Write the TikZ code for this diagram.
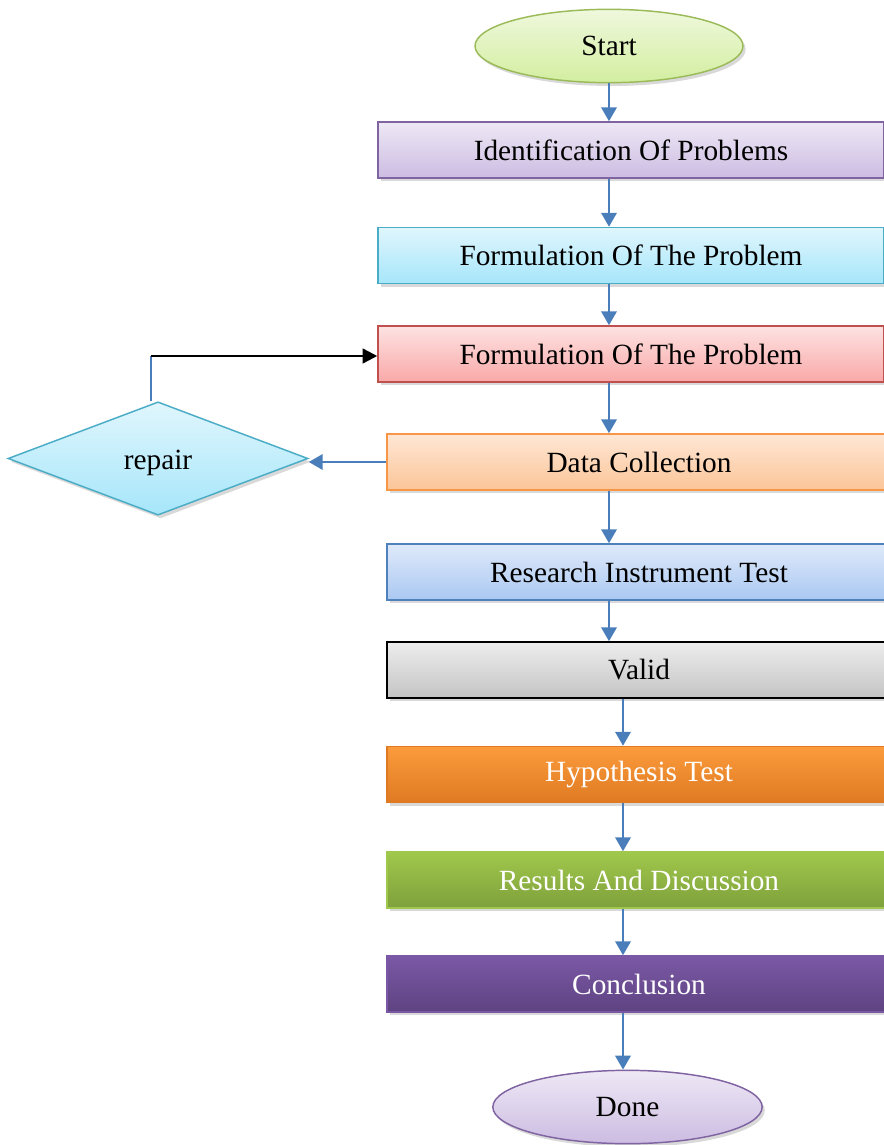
\documentclass[tikz,border=0pt]{standalone}
\usepackage{fontspec}
\setmainfont{Liberation Serif}
\usetikzlibrary{shapes.geometric,shadows,arrows.meta}

\definecolor{flowblue}{HTML}{4A7EBB}
\definecolor{lineGreen}{HTML}{9BBB59}
\definecolor{linePurple}{HTML}{8064A2}
\definecolor{lineCyan}{HTML}{4BACC6}
\definecolor{lineRed}{HTML}{C0504D}
\definecolor{lineOrange}{HTML}{F79646}
\definecolor{lineBlue}{HTML}{4F81BD}
% fills, light top to darker bottom
\definecolor{greenTop}{HTML}{EFF8DD}
\definecolor{greenBot}{HTML}{D3EEA0}
\definecolor{purpleTop}{HTML}{EEE8F5}
\definecolor{purpleBot}{HTML}{CCBCE2}
\definecolor{cyanTop}{HTML}{E0F6FD}
\definecolor{cyanBot}{HTML}{A6E6FA}
\definecolor{redTop}{HTML}{FDE2E2}
\definecolor{redBot}{HTML}{F9A9A8}
\definecolor{orangeTop}{HTML}{FFE7D5}
\definecolor{orangeBot}{HTML}{FBC598}
\definecolor{blueTop}{HTML}{DFEAFA}
\definecolor{blueBot}{HTML}{AAC8F2}
\definecolor{grayTop}{HTML}{EDEDED}
\definecolor{grayBot}{HTML}{C4C4C4}
\definecolor{hypTop}{HTML}{FB9B3C}
\definecolor{hypBot}{HTML}{DF7A22}
\definecolor{resTop}{HTML}{A0C84C}
\definecolor{resBot}{HTML}{7FA03C}
\definecolor{conTop}{HTML}{7B58A6}
\definecolor{conBot}{HTML}{5E4381}

\tikzset{
  block/.style={rectangle, draw, line width=1.1pt, minimum height=42pt,
    inner sep=0pt, font=\fontsize{22}{26}\selectfont,
    drop shadow={opacity=0.3, shadow xshift=2pt, shadow yshift=-2.5pt}},
  terminal/.style={ellipse, draw, line width=1.1pt, minimum width=201pt,
    minimum height=55pt, inner sep=0pt, font=\fontsize{22}{26}\selectfont,
    drop shadow={opacity=0.3, shadow xshift=2pt, shadow yshift=-2.5pt}},
  flow/.style={draw=flowblue, line width=2pt,
    -{Triangle[width=11.5pt,length=10.5pt]}},
}

\begin{document}
\begin{tikzpicture}[x=0.75pt, y=-0.75pt]
  \useasboundingbox (0,0) rectangle (883,1145);

  \node[terminal, draw=lineGreen, top color=greenTop, bottom color=greenBot] (start) at (609,46) {Start};
  \node[block, minimum width=379.5pt, draw=linePurple, top color=purpleTop, bottom color=purpleBot] (ident) at (631,150) {Identification Of Problems};
  \node[block, minimum width=379.5pt, draw=lineCyan, top color=cyanTop, bottom color=cyanBot] (formA) at (631,255.5) {Formulation Of The Problem};
  \node[block, minimum width=379.5pt, draw=lineRed, top color=redTop, bottom color=redBot] (formB) at (631,354) {Formulation Of The Problem};
  \node[block, minimum width=378pt, draw=lineOrange, top color=orangeTop, bottom color=orangeBot] (data) at (639,462) {Data Collection};
  \node[block, minimum width=378pt, draw=lineBlue, top color=blueTop, bottom color=blueBot] (research) at (639,572) {Research Instrument Test};
  \node[block, minimum width=378pt, draw=black, top color=grayTop, bottom color=grayBot] (valid) at (639,670) {Valid};
  \node[block, minimum width=378pt, draw=hypBot, top color=hypTop, bottom color=hypBot, text=white] (hyp) at (639,774.5) {Hypothesis Test};
  \node[block, minimum width=378pt, draw=resTop, top color=resTop, bottom color=resBot, text=white] (results) at (639,880) {Results And Discussion};
  \node[block, minimum width=378pt, draw=conTop, top color=conTop, bottom color=conBot, text=white] (concl) at (639,984) {Conclusion};
  \node[terminal, minimum width=202pt, draw=linePurple, top color=purpleTop, bottom color=purpleBot] (done) at (627.5,1107) {Done};

  \node[diamond, draw=lineCyan, line width=1.1pt, aspect=2.65, minimum width=225pt,
    minimum height=85pt, inner sep=0pt, top color=cyanTop, bottom color=cyanBot,
    font=\fontsize{22}{26}\selectfont, text height=17pt, text depth=0pt,
    drop shadow={opacity=0.3, shadow xshift=2pt, shadow yshift=-2.5pt}] (repair) at (158,458.5) {repair};

  \coordinate (lane) at (623,0);
  \coordinate (loop) at (151,356);

  \draw[flow] (start) -- (start |- ident.north);
  \draw[flow] (ident.south -| start) -- (start |- formA.north);
  \draw[flow] (formA.south -| start) -- (start |- formB.north);
  \draw[flow] (formB.south -| start) -- (start |- data.north);
  \draw[flow] (data.south -| start) -- (start |- research.north);
  \draw[flow] (research.south -| start) -- (start |- valid.north);
  \draw[flow] (valid.south -| lane) -- (lane |- hyp.north);
  \draw[flow] (hyp.south -| lane) -- (lane |- results.north);
  \draw[flow] (results.south -| lane) -- (lane |- concl.north);
  \draw[flow] (concl.south -| lane) -- (lane |- done.north);

  % back to the problem when the data is not valid
  \draw[flow] (data.west) -- (data.west -| repair.east);
  \draw[draw=flowblue, line width=1.5pt] ([xshift=-5.25pt]repair.north) -- (loop);
  \draw[line width=1.8pt, -{Triangle[width=11pt,length=11pt]}] (loop) -- (loop -| formB.west);
\end{tikzpicture}
\end{document}
